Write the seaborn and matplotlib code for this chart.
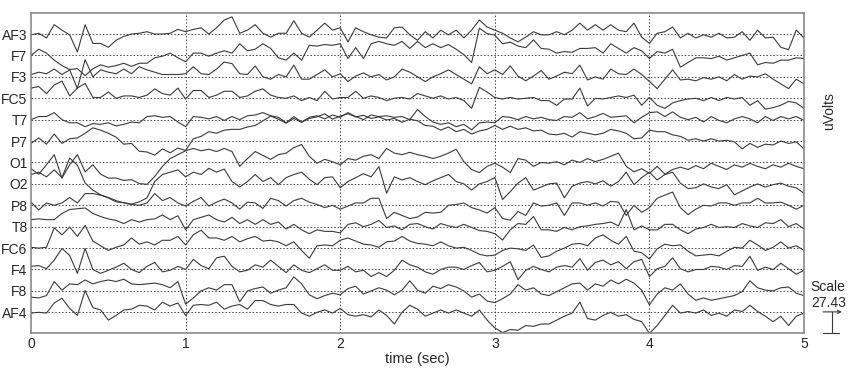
import numpy as np
import pandas as pd
import seaborn as sns
import matplotlib.pyplot as plt
import matplotlib.transforms as mtransforms

#################### Data ####################

channels = ['AF3', 'F7', 'F3', 'FC5', 'T7', 'P7', 'O1', 'O2', 'P8', 'T8', 'FC6', 'F4', 'F8', 'AF4']

# one sample every 0.05 s (0 .. 5 s), amplitude in uV around each channel baseline
af3 = [-1, 1, -5, 12, 5, -1, -23, 12, -12, -12, -17, -8, -3, 0, 1, 3, 0, 0, 1, 6, 3, 6, 8, 0, 8, 18, 22, 1, 5, 12, 1, -4, 1, 1,
       17, 1, -4, 5, 14, 5, 8, -10, 8, 3, -1, -4, -5, 8, 9, -1, -8, 3, -5, 5, -1, 5, -5, 5, 18, 9, 5, 1, -5, -10, -4, 3, -1,
       -1, 3, -1, 5, 14, 5, 12, 5, 12, 5, 3, 14, -4, -12, 1, 3, 9, -5, 1, -5, -1, -4, 1, -5, -4, 3, -8, 5, -5, -4, -17, -20, 5, -5]
f7 = [0, 8, 3, -6, -13, -18, -17, -26, -17, -12, -15, -13, -10, -14, -10, -10, -3, -1, 3, -3, -8, 3, 3, -1, 3, 6, 3, 15, 6, 8, 15, 9, -3, -6,
      3, -6, 13, 12, 14, 13, 15, -4, 10, -4, 15, 18, 15, 13, 18, 9, 18, 10, 15, 10, 14, 8, 1, -9, 35, 28, 26, 15, 17, 12, 10, 20, 9,
      8, 3, 5, 4, 9, 9, 10, 3, 15, 9, 3, 10, 6, -4, 5, 3, 8, -15, -9, -3, -3, -4, -1, -6, -3, 0, 3, -12, -9, -10, -6, -6, -3, -4]
f3 = [3, 6, 4, 10, 3, 9, -15, 22, 0, 9, 6, 4, 10, 4, 13, 9, 6, 3, 3, 3, 4, 13, 4, 3, 10, 19, 17, 4, 3, 14, 0, -3, 3, 0,
      15, -3, -3, 3, 9, 0, 4, -6, 1, 5, 0, 3, -4, 0, 10, 6, 0, -6, 0, 4, 9, 3, -3, -9, 13, 4, 9, 3, 14, 1, -5, 1, 8,
      -3, 1, 6, 4, 15, -4, 0, -3, 10, 4, 3, 10, 3, -6, -15, -3, 9, -4, -3, -5, -1, -3, 0, -5, 3, -3, 1, 0, 4, -3, -9, -15, -3, -9]
fc5 = [13, 15, 6, 17, 22, 3, 13, 19, 1, 1, 8, 0, 3, 3, 1, 4, 12, 6, 4, 13, -1, 10, 10, 1, 4, 9, 9, 1, 3, 9, 12, 4, 1, 0,
       3, -3, 1, -3, 9, -1, 1, 1, 9, 0, 3, 1, -3, 0, 1, -1, 6, 3, 0, 3, -1, 1, -3, -13, 14, 8, 1, -1, 1, -1, 0, 1, -3,
       -3, -9, -1, -1, 13, -10, 0, -1, 1, 3, 1, 4, -9, 1, -9, -13, -6, -3, -1, 0, -3, 1, -3, 1, -1, 1, -9, -3, -14, -12, -9, -4, -6, -13]
t7 = [0, 4, 4, 9, 0, -4, -4, -9, -5, -6, -4, -8, -6, -3, -4, 4, 5, 3, 4, -3, -9, 4, 3, 1, 4, -1, 4, 0, 5, 6, 9, 5, 3, -4,
      4, -3, 3, 5, 1, 6, 3, 9, 4, 0, 6, 4, 5, 3, 4, 0, 13, 4, -3, -6, -4, -9, -6, -13, -4, -3, -4, 4, 3, 0, 4, 1, 3,
      0, -1, 4, 3, 9, 1, 4, 8, 3, 4, 5, -4, 3, 9, 10, 4, 10, 3, 0, 3, -3, 4, -1, -4, 1, 4, 1, -4, 4, -1, 4, 1, 4, -1]
p7 = [-3, 4, -4, 9, -3, 3, 4, 10, 17, 14, 10, 5, -4, -3, -13, -14, -18, -10, -15, -9, -12, 3, 6, 12, 10, 14, 15, 15, 18, 20, 26, 32, 28, 23,
      29, 24, 29, 31, 35, 28, 32, 35, 31, 33, 29, 31, 27, 29, 24, 28, 26, 20, 19, 14, 18, 12, 15, 9, 13, 15, 20, 15, 19, 15, 17, 13, 14,
      9, 8, 10, 5, 12, 10, 8, 10, 15, 13, 10, 3, 4, 14, 12, 12, 8, 6, 1, 3, 0, 3, 0, 1, -1, -10, -3, -8, -4, -5, 0, -3, -1, -10]
o1 = [-8, -15, -3, 10, -20, -3, 10, -12, -3, -15, -20, -20, -23, -22, -27, -28, -18, -5, 5, 10, 15, 18, 15, 17, 14, 18, 14, -5, 5, 14, 9, 4, 10, 12,
      19, 23, 8, -1, 4, 1, -3, 5, 3, 8, 10, 5, 18, 12, 10, 13, 10, 8, 5, 8, 12, 17, 1, -9, -13, -5, -1, -6, -13, 5, 3, -5, 0,
      -1, 1, -3, 3, 0, 5, 1, 4, 8, 12, -5, -12, -8, -14, -5, -15, -9, -6, -9, -4, -8, -1, -5, -9, -3, -6, -1, -5, -8, -3, -6, -1, -5, -8]
o2 = [12, 15, 9, 18, 8, 33, 24, 1, -8, -14, -18, -23, -24, -26, -23, -18, 3, 12, 15, 18, 9, 15, 12, 20, 15, 19, 3, -4, 3, 12, 3, 8, -1, 8,
      12, 15, 6, -1, 8, 9, -5, 3, 8, 13, 9, 22, -12, 9, 5, 8, 3, -1, 4, 8, 12, 3, 0, -8, 0, 3, 8, -20, -10, 1, 8, -8, -4,
      0, 1, -18, -3, 1, 3, 0, 4, -3, 3, 15, -1, 8, 15, 5, 12, 15, 1, -6, -5, 0, -4, -6, -1, -14, -9, -4, 0, -4, -1, 1, -3, -5, -12]
p8 = [4, -6, 3, 0, 3, 10, 3, 15, 15, 13, 10, 6, 3, 1, 0, 3, 15, 6, 10, 3, -1, 5, 10, -1, 4, 8, 3, -5, 4, 3, -4, 9, 6, -1,
      6, 9, 4, 1, -3, 0, -5, -1, 3, 3, 9, 9, -17, -9, -13, -17, -15, -9, -10, -9, 0, 1, 3, -3, -6, -10, -3, -17, -19, -8, -13, 3, -1,
      0, 3, -13, 3, 3, 0, 3, -1, 5, 4, -13, 0, -9, -3, 9, 13, 17, -3, -12, -5, 0, -1, 3, 3, 0, 3, 3, 9, 3, 3, 4, 0, -5, 0]
t8 = [9, 10, 9, 9, 17, 22, 23, 24, 17, 13, 10, 8, 4, 9, 6, 9, 10, 15, 9, 14, -4, 9, 12, 15, 9, 6, 12, 4, 9, 3, 9, 3, 6, -3,
      3, -4, -9, -4, -6, -6, -8, 3, 5, 0, 3, 8, -1, 1, -4, 3, 4, 0, -3, 4, 1, -1, 3, -1, -5, -6, -9, -17, -4, 4, 3, 13, -4,
      -4, -6, -1, -4, 0, 1, 3, 4, 6, 1, 22, -4, 1, -4, -4, 3, 3, -4, -9, -3, -1, 3, -1, 0, -1, 4, 1, -1, 5, 4, 9, 0, 4, -3]
fc6 = [1, 0, 1, 26, 17, 27, 15, 29, 9, 3, -3, 1, 4, 13, 5, 8, 4, 10, 10, 15, 4, 17, 23, 13, 13, 10, 15, 8, 12, 15, 9, 10, 8, 3,
       8, -3, -13, 3, 4, 3, 10, 13, 9, 5, 4, 1, 8, 9, 15, 9, 6, 5, 3, 8, 3, 0, 1, -3, -8, -10, -9, -3, 0, -1, -3, 4, -12,
       -10, -4, 0, 5, 6, 3, 13, 17, 10, 5, 15, -4, -6, -14, -1, 5, 3, 4, -4, -10, -9, -8, -10, -4, 1, 0, 10, 4, -3, 1, 8, 0, 3, -3]
f4 = [4, 5, 1, 12, 27, 18, -5, 27, 0, -5, -1, 3, 8, 0, -4, 4, 9, -3, -1, 4, 0, 13, 5, 1, 15, 17, 4, -3, -1, 6, 3, 12, 4, -4,
      6, -1, -4, 1, 6, -1, -1, 4, -3, -1, -9, -4, -9, -1, 12, 6, 3, -3, -6, 0, 3, 3, 0, 5, 9, -3, -1, 4, 10, -13, -1, 4, 0,
      -3, 3, 5, 3, 14, -1, 9, 12, 6, 10, 1, 10, 13, -9, 1, 4, 15, 1, -3, 0, 0, 4, 3, 0, 5, 4, 17, -1, 3, 0, 8, 1, -6, -1]
f8 = [-8, -9, -6, 12, 1, 9, 8, 14, 9, 12, 14, 12, 15, 9, 8, 9, 10, 8, 4, 12, -17, -9, 0, 4, 1, 8, 8, -14, 0, 3, 5, -3, 1, 4,
      18, 9, -5, -10, -6, -3, -5, 3, 6, -4, 0, 4, 1, -5, 1, 13, 1, -3, 6, 3, 8, 5, 0, -8, -4, -13, -15, -10, -4, 8, 1, 4, -4,
      -6, -1, 4, 9, 10, 1, 9, 6, 14, 9, 15, 10, 1, -18, -4, 4, 1, 9, -4, -12, -9, -12, -10, -8, -6, -1, 13, 4, 1, 0, 4, 5, -3, -6]
af4 = [-1, 0, -1, 12, 18, 5, -4, 28, 6, 3, -10, -4, 3, 4, 9, 8, 3, 13, 8, 12, -4, 9, 10, 9, 13, 4, 8, 10, 4, 15, 15, 10, 8, 10,
       10, -1, -5, 0, 3, -1, 5, -3, -5, -3, -6, 3, -4, -15, 0, 9, 4, -5, -1, 3, -1, 3, -1, -5, 3, -10, -20, -26, -22, -23, -17, -18, -15,
       -15, -10, -5, -1, 13, -8, -10, -4, 0, -5, -3, -9, -12, -27, -17, -4, 9, -1, 1, -1, 3, -4, -1, -5, 3, 1, 9, 1, -5, -12, -5, -17, -5, -1]

traces = [af3, f7, f3, fc5, t7, p7, o1, o2, p8, t8, fc6, f4, f8, af4]
sample_step = 0.05
scale_uv = 27.43          # channel spacing / scale bar in uV
x_ticks = [0, 1, 2, 3, 4, 5]

#################### Long table ####################

rows = []
for i, (name, vals) in enumerate(zip(channels, traces)):
    assert len(vals) == 101, (name, len(vals))
    base = (len(channels) - 1 - i) * scale_uv
    for k, v in enumerate(vals):
        rows.append({'time': k * sample_step, 'channel': name, 'uv': base + v})
df = pd.DataFrame(rows)
baselines = [(len(channels) - 1 - i) * scale_uv for i in range(len(channels))]

#################### Plot ####################

sns.set_style('white')
plt.rcParams['font.family'] = ['Liberation Sans', 'DejaVu Sans']

fig = plt.figure(figsize=(8.5, 3.69), dpi=100)
ax = fig.add_axes([0.0365, 0.0968, 0.9094, 0.8672])

for b in baselines:
    ax.axhline(b, color='#444444', ls=(0, (1.5, 2.0)), lw=0.7, zorder=1)
for t in x_ticks[1:-1]:
    ax.axvline(t, color='#444444', ls=(0, (1.5, 2.0)), lw=0.7, zorder=1)

sns.lineplot(data=df, x='time', y='uv', units='channel', estimator=None,
             color='#3a3a3a', linewidth=0.8, legend=False, ax=ax, zorder=2)

ax.set_xlim(0, 5)
ax.set_ylim(-0.98 * scale_uv, 13.97 * scale_uv)
ax.set_xticks(x_ticks)
ax.set_xticklabels([str(t) for t in x_ticks])
ax.set_yticks(baselines)
ax.set_yticklabels(channels)
ax.tick_params(length=0, labelsize=10, pad=2.5)
ax.set_xlabel('time (sec)', fontsize=10.5, labelpad=1)
ax.set_ylabel('')
for s in ax.spines.values():
    s.set_color('#808080')
    s.set_linewidth(1.1)

#################### Right-hand annotations ####################

fig.text(0.976, 0.70, 'uVolts', rotation=90, ha='center', va='center', fontsize=10)
fig.text(828 / 850, 1 - 287 / 369, 'Scale', ha='center', va='center', fontsize=10)
fig.text(829 / 850, 1 - 303 / 369, f'{scale_uv:.2f}', ha='center', va='center', fontsize=10)

trans = mtransforms.blended_transform_factory(ax.transAxes, ax.transData)
y0 = ax.get_ylim()[0]
ax.plot([1.0358, 1.0358], [y0, y0 + scale_uv], color='#3a3a3a', lw=0.8, transform=trans, clip_on=False)
ax.plot([1.0246, 1.0453], [y0, y0], color='#3a3a3a', lw=0.8, transform=trans, clip_on=False)
ax.annotate('', xy=(1.049, y0 + scale_uv), xytext=(1.0246, y0 + scale_uv),
            xycoords=trans, textcoords=trans,
            arrowprops=dict(arrowstyle='->', lw=0.8, color='#3a3a3a', mutation_scale=6,
                            shrinkA=0, shrinkB=0))

plt.savefig('out.png', dpi=100)
